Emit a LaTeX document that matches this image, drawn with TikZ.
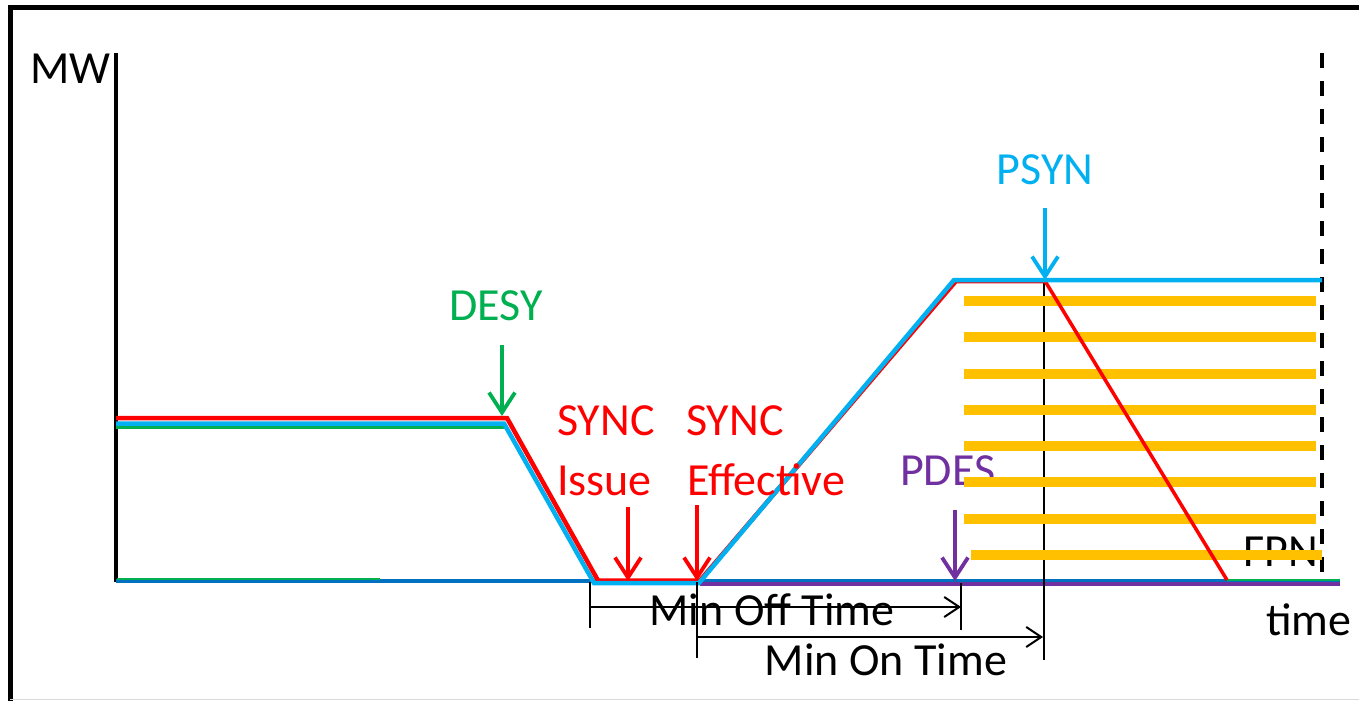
\documentclass[tikz,border=0pt]{standalone}
\usepackage{fontspec}
\setmainfont{Carlito}
\usetikzlibrary{arrows.meta}
\definecolor{cred}{HTML}{FF0000}
\definecolor{ccyan}{HTML}{00B0F0}
\definecolor{cgreen}{HTML}{00B050}
\definecolor{cpurple}{HTML}{7030A0}
\definecolor{cyellow}{HTML}{FFC000}
\definecolor{cblue}{HTML}{0070C0}
\tikzset{
  lbl/.style={inner sep=0pt, font=\fontsize{46}{55}\selectfont},
  markarrow/.style={line width=3.8pt, -{Straight Barb[length=20pt,width=26pt]}},
  dimarrow/.style={line width=2pt, black, -{Straight Barb[length=15pt,width=20pt]}},
  tickline/.style={line width=2pt, black},
  curve/.style={line width=4.5pt, line join=miter},
  bar/.style={line width=10pt, cyellow},
}
\begin{document}
\begin{tikzpicture}[x=1pt,y=-1pt]
\useasboundingbox (0,0) rectangle (1359,701);
% frame
\draw[line width=5pt] (10,701) -- (10,8) -- (1359,8);
\draw[gray!30, line width=1pt] (10,699.5) -- (1359,699.5);
% axis
\coordinate (ytop) at (116,53);
\coordinate (origin) at (116,582);
\draw[line width=4.5pt] (ytop) -- (origin);
\node[lbl, anchor=base west] (mw) at (30,83) {MW};
% dashed end line
\coordinate (dtop) at (1322,53);
\coordinate (dbot) at (1322,580);
\draw[line width=4pt, dash pattern=on 15pt off 13pt] (dtop) -- (dbot);
% labels partly under bars
\node[lbl, anchor=base west] (fpn) at (1243,566) {FPN};
\node[lbl, anchor=base west] (time) at (1266,635) {time};
\node[lbl, anchor=base west, text=cpurple] (pdes) at (900,485) {PDES};
% baseline
\draw[line width=4.5pt, cblue] (116,581) -- (1340,581);
\draw[line width=4pt, cpurple] (700,583.5) -- (1340,583.5);
\draw[line width=2pt, cgreen] (117,578.5) -- (380,578.5);
\draw[line width=2.5pt, cgreen] (1227,580) -- (1340,580);
% vertical PSYN line
\coordinate (vtop) at (1044,280);
\coordinate (vbot) at (1044,660);
\draw[tickline] (vtop) -- (vbot);
% yellow bars
\foreach \yy in {301,337,374,410,446,482,519}{
  \draw[bar] (964,\yy) -- (1316,\yy);
}
\draw[bar] (971,555) -- (1322,555);
% curves
\draw[curve, cgreen] (116,427) -- (505,427);
\draw[curve, cred] (116,418) -- (507,418) -- (598,580.5) -- (700,580.5) -- (956,281) -- (1045,281);
\draw[line width=3.5pt, cred] (1045,281) -- (1227,580);
\draw[curve, ccyan] (116,423.5) -- (504,423.5) -- (594,583) -- (699,583) -- (954,280) -- (1322,280);
% markers
\node[lbl, anchor=base, text=cgreen] (desy) at (496,320) {DESY};
\coordinate (desyS) at (502,345);
\coordinate (desyT) at (502,416);
\draw[markarrow, cgreen] (desyS) -- (desyT);

\node[lbl, anchor=base west, text=cred] (sync1) at (557,435) {SYNC};
\node[lbl, anchor=base west, text=cred] (issue) at (557,495) {Issue};
\coordinate (issS) at (628,507);
\coordinate (issT) at (628,581);
\draw[markarrow, cred] (issS) -- (issT);

\node[lbl, anchor=base west, text=cred] (sync2) at (686,435) {SYNC};
\node[lbl, anchor=base west, text=cred] (eff) at (687,495) {Effective};
\coordinate (effS) at (697,505);
\coordinate (effT) at (697,581);
\draw[markarrow, cred] (effS) -- (effT);

\coordinate (pdesS) at (955,510);
\coordinate (pdesT) at (955,581);
\draw[markarrow, cpurple] (pdesS) -- (pdesT);

\node[lbl, anchor=base, text=ccyan] (psyn) at (1045,184) {PSYN};
\coordinate (psynS) at (1045,208);
\coordinate (psynT) at (1045,280);
\draw[markarrow, ccyan] (psynS) -- (psynT);

% Min Off Time
\coordinate (offL1) at (590,582);
\coordinate (offL2) at (590,628);
\coordinate (offR1) at (961,583);
\coordinate (offR2) at (961,630);
\draw[tickline] (offL1) -- (offL2);
\draw[tickline] (offR1) -- (offR2);
\coordinate (offA) at (590,607);
\coordinate (offB) at (961,607);
\draw[dimarrow] (offA) -- (offB);
\node[lbl, anchor=base] (minoff) at (772,625) {Min Off Time};

% Min On Time
\coordinate (onL1) at (697,582);
\coordinate (onL2) at (697,658);
\draw[tickline] (onL1) -- (onL2);
\coordinate (onA) at (697,637);
\coordinate (onB) at (1043,637);
\draw[dimarrow] (onA) -- (onB);
\node[lbl, anchor=base] (minon) at (886,675) {Min On Time};
\end{tikzpicture}
\end{document}
